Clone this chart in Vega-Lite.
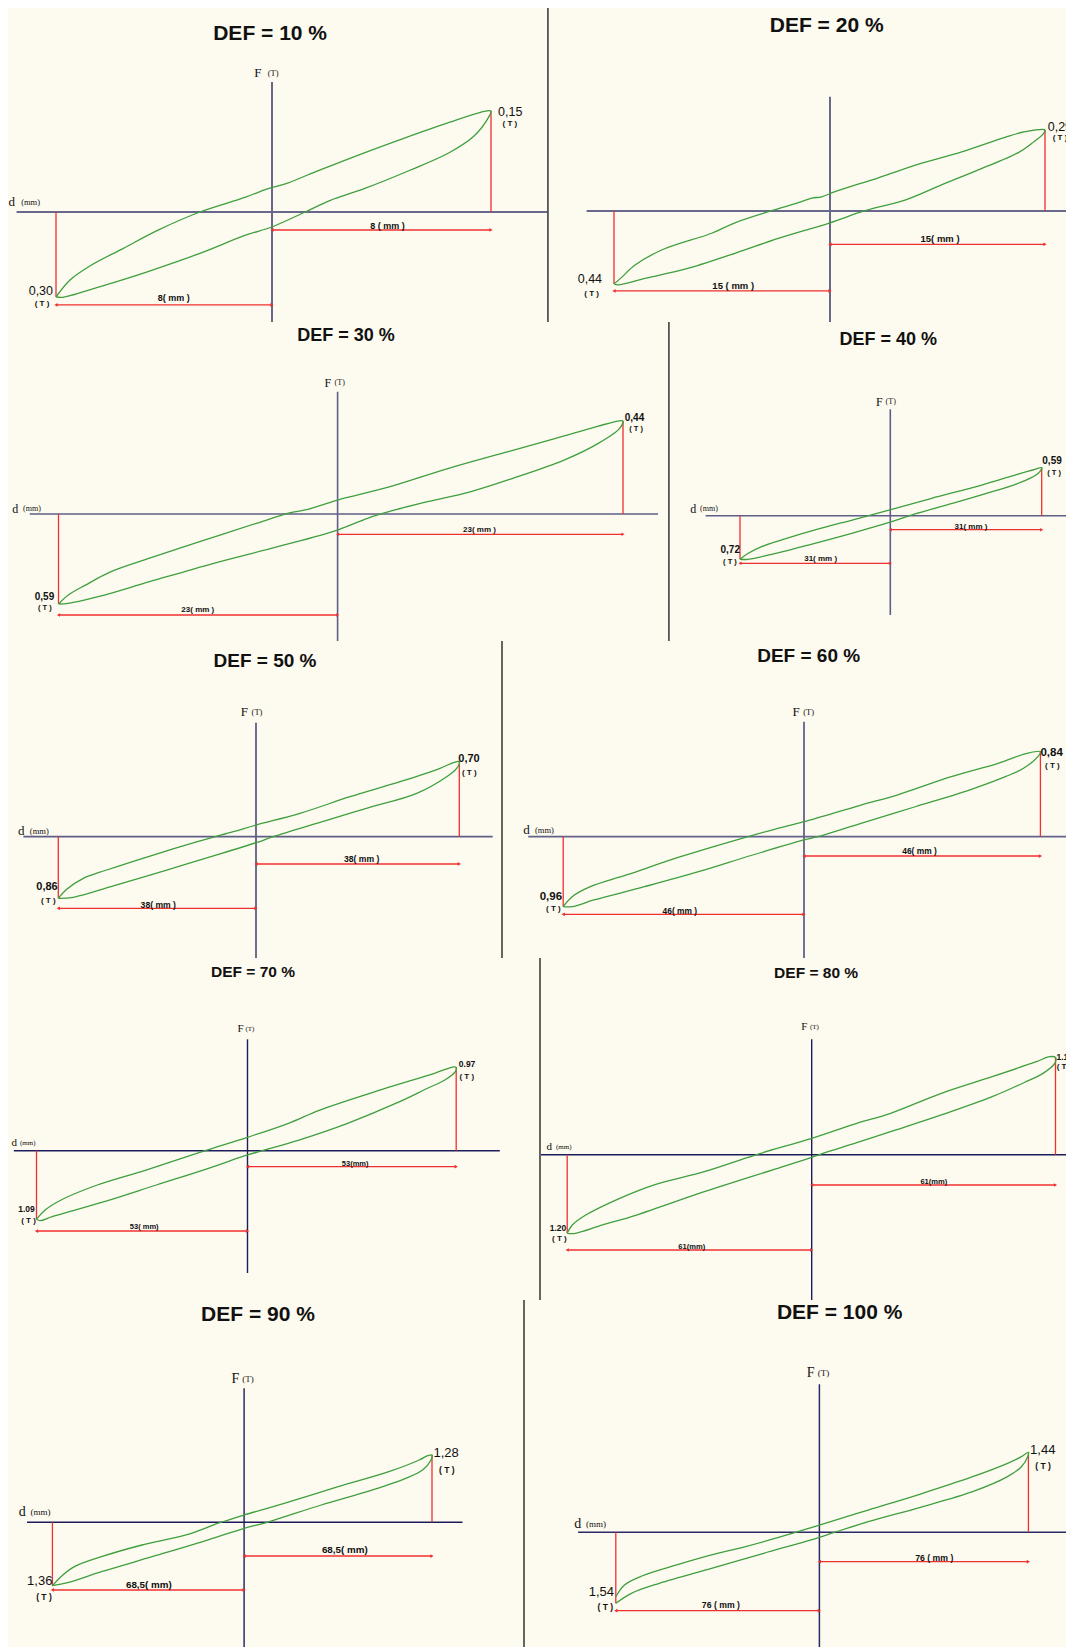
{
"$schema":"https://vega.github.io/schema/vega-lite/v6.json",
"background":"white",
"padding":{"left":8,"top":8,"right":0,"bottom":0},
"spacing":0,
"config":{"view":{"stroke":null,"fill":"#FDFAEF"},"axis":{"disable":true},"legend":{"disable":true}},
"datasets":{
"loops":[
{"p":10,"d":-8,"F":-0.3},{"p":10,"d":-7.48,"F":-0.24},{"p":10,"d":-6.7,"F":-0.188},{"p":10,"d":-5.52,"F":-0.129},{"p":10,"d":-4.22,"F":-0.064},{"p":10,"d":-2.67,"F":0},{"p":10,"d":-0.98,"F":0.022},{"p":10,"d":-0.2,"F":0.034},{"p":10,"d":0.57,"F":0.043},{"p":10,"d":1.6,"F":0.06},{"p":10,"d":3.25,"F":0.086},{"p":10,"d":4.79,"F":0.109},{"p":10,"d":6.47,"F":0.133},{"p":10,"d":7.62,"F":0.148},{"p":10,"d":8,"F":0.15},
{"p":10,"d":7.93,"F":0.142},{"p":10,"d":7.36,"F":0.112},{"p":10,"d":6.47,"F":0.088},{"p":10,"d":5.04,"F":0.062},{"p":10,"d":3.39,"F":0.035},{"p":10,"d":2.11,"F":0.017},{"p":10,"d":1.21,"F":0},{"p":10,"d":-0.01,"F":-0.053},{"p":10,"d":-0.98,"F":-0.082},{"p":10,"d":-2.67,"F":-0.146},{"p":10,"d":-4.62,"F":-0.211},{"p":10,"d":-6.18,"F":-0.258},{"p":10,"d":-7.74,"F":-0.301},{"p":10,"d":-8,"F":-0.3},

{"p":20,"d":-15,"F":-0.44},{"p":20,"d":-14.47,"F":-0.4},{"p":20,"d":-13.54,"F":-0.326},{"p":20,"d":-11.69,"F":-0.235},{"p":20,"d":-8.22,"F":-0.134},{"p":20,"d":-6.6,"F":-0.071},{"p":20,"d":-4.05,"F":0.001},{"p":20,"d":-2.2,"F":0.03},{"p":20,"d":-1.27,"F":0.046},{"p":20,"d":-0.58,"F":0.051},{"p":20,"d":0.35,"F":0.069},{"p":20,"d":3.37,"F":0.119},{"p":20,"d":6.4,"F":0.171},{"p":20,"d":9.19,"F":0.212},{"p":20,"d":12.21,"F":0.264},{"p":20,"d":13.61,"F":0.284},{"p":20,"d":15,"F":0.29},
{"p":20,"d":14.88,"F":0.276},{"p":20,"d":14.07,"F":0.242},{"p":20,"d":13.14,"F":0.209},{"p":20,"d":10.35,"F":0.147},{"p":20,"d":8.03,"F":0.099},{"p":20,"d":5.23,"F":0.039},{"p":20,"d":2.44,"F":0.001},{"p":20,"d":0,"F":-0.071},{"p":20,"d":-3.59,"F":-0.165},{"p":20,"d":-6.6,"F":-0.255},{"p":20,"d":-10.07,"F":-0.351},{"p":20,"d":-12.85,"F":-0.406},{"p":20,"d":-14.7,"F":-0.445},{"p":20,"d":-15,"F":-0.44},

{"p":30,"d":-23,"F":-0.59},{"p":30,"d":-22.19,"F":-0.531},{"p":30,"d":-20.78,"F":-0.466},{"p":30,"d":-18.67,"F":-0.378},{"p":30,"d":-15.5,"F":-0.29},{"p":30,"d":-10.92,"F":-0.17},{"p":30,"d":-6.69,"F":-0.061},{"p":30,"d":-3.87,"F":0.006},{"p":30,"d":-2.46,"F":0.022},{"p":30,"d":0,"F":0.066},{"p":30,"d":3.79,"F":0.122},{"p":30,"d":8.95,"F":0.216},{"p":30,"d":13.43,"F":0.29},{"p":30,"d":17.57,"F":0.358},{"p":30,"d":21.01,"F":0.416},{"p":30,"d":22.73,"F":0.441},{"p":30,"d":23,"F":0.44},
{"p":30,"d":22.73,"F":0.405},{"p":30,"d":21.01,"F":0.334},{"p":30,"d":18.25,"F":0.255},{"p":30,"d":14.12,"F":0.169},{"p":30,"d":10.68,"F":0.105},{"p":30,"d":7.24,"F":0.058},{"p":30,"d":4.13,"F":0.011},{"p":30,"d":2.41,"F":-0.028},{"p":30,"d":0,"F":-0.105},{"p":30,"d":-4.93,"F":-0.214},{"p":30,"d":-10.21,"F":-0.323},{"p":30,"d":-15.5,"F":-0.444},{"p":30,"d":-19.73,"F":-0.542},{"p":30,"d":-22.19,"F":-0.586},{"p":30,"d":-23,"F":-0.59},

{"p":40,"d":-31,"F":-0.72},{"p":40,"d":-29.29,"F":-0.621},{"p":40,"d":-26.53,"F":-0.512},{"p":40,"d":-22.4,"F":-0.401},{"p":40,"d":-15.53,"F":-0.236},{"p":40,"d":-7.28,"F":-0.059},{"p":40,"d":0.29,"F":0.079},{"p":40,"d":8.48,"F":0.214},{"p":40,"d":18.71,"F":0.377},{"p":40,"d":25.53,"F":0.5},{"p":40,"d":29.63,"F":0.57},{"p":40,"d":31,"F":0.59},
{"p":40,"d":30.3,"F":0.521},{"p":40,"d":27.58,"F":0.43},{"p":40,"d":22.11,"F":0.316},{"p":40,"d":13.92,"F":0.172},{"p":40,"d":5.06,"F":0.021},{"p":40,"d":0.29,"F":-0.099},{"p":40,"d":-7.96,"F":-0.291},{"p":40,"d":-16.91,"F":-0.484},{"p":40,"d":-24.46,"F":-0.637},{"p":40,"d":-29.29,"F":-0.72},{"p":40,"d":-31,"F":-0.72},

{"p":50,"d":-38,"F":-0.86},{"p":50,"d":-36.38,"F":-0.734},{"p":50,"d":-33.19,"F":-0.581},{"p":50,"d":-28.69,"F":-0.465},{"p":50,"d":-20.37,"F":-0.27},{"p":50,"d":-10.76,"F":-0.06},{"p":50,"d":-4.36,"F":0.047},{"p":50,"d":0,"F":0.109},{"p":50,"d":8.22,"F":0.218},{"p":50,"d":17.57,"F":0.373},{"p":50,"d":26.92,"F":0.513},{"p":50,"d":34.39,"F":0.638},{"p":50,"d":36.88,"F":0.691},{"p":50,"d":38,"F":0.7},
{"p":50,"d":37.51,"F":0.638},{"p":50,"d":35.64,"F":0.56},{"p":50,"d":30.04,"F":0.405},{"p":50,"d":20.64,"F":0.265},{"p":50,"d":11.35,"F":0.125},{"p":50,"d":3.23,"F":0},{"p":50,"d":0,"F":-0.084},{"p":50,"d":-7.55,"F":-0.255},{"p":50,"d":-17.16,"F":-0.465},{"p":50,"d":-26.77,"F":-0.674},{"p":50,"d":-35.11,"F":-0.846},{"p":50,"d":-38,"F":-0.86},

{"p":60,"d":-46,"F":-0.96},{"p":60,"d":-44.28,"F":-0.823},{"p":60,"d":-40.82,"F":-0.686},{"p":60,"d":-33.93,"F":-0.525},{"p":60,"d":-23.59,"F":-0.274},{"p":60,"d":-11.17,"F":-0.008},{"p":60,"d":-5.65,"F":0.073},{"p":60,"d":0,"F":0.148},{"p":60,"d":11.09,"F":0.313},{"p":60,"d":18.12,"F":0.412},{"p":60,"d":28.66,"F":0.593},{"p":60,"d":37.79,"F":0.725},{"p":60,"d":43.41,"F":0.824},{"p":60,"d":46,"F":0.84},
{"p":60,"d":45.51,"F":0.791},{"p":60,"d":42.71,"F":0.676},{"p":60,"d":39.19,"F":0.593},{"p":60,"d":32.17,"F":0.461},{"p":60,"d":21.64,"F":0.296},{"p":60,"d":11.09,"F":0.132},{"p":60,"d":2.67,"F":0},{"p":60,"d":0,"F":-0.045},{"p":60,"d":-9.8,"F":-0.251},{"p":60,"d":-20.13,"F":-0.48},{"p":60,"d":-30.49,"F":-0.686},{"p":60,"d":-40.13,"F":-0.868},{"p":60,"d":-44.28,"F":-0.96},{"p":60,"d":-46,"F":-0.96},

{"p":70,"d":-53,"F":-1.09},{"p":70,"d":-50.82,"F":-0.942},{"p":70,"d":-46.45,"F":-0.772},{"p":70,"d":-37.73,"F":-0.545},{"p":70,"d":-25.5,"F":-0.307},{"p":70,"d":-10.65,"F":0},{"p":70,"d":0,"F":0.156},{"p":70,"d":10.41,"F":0.319},{"p":70,"d":18.36,"F":0.473},{"p":70,"d":34.23,"F":0.714},{"p":70,"d":47.49,"F":0.9},{"p":70,"d":51.9,"F":0.97},{"p":70,"d":53,"F":0.97},
{"p":70,"d":52.77,"F":0.919},{"p":70,"d":50.13,"F":0.822},{"p":70,"d":45.71,"F":0.726},{"p":70,"d":38.65,"F":0.57},{"p":70,"d":25.42,"F":0.319},{"p":70,"d":13.05,"F":0.124},{"p":70,"d":3.78,"F":0},{"p":70,"d":0,"F":-0.068},{"p":70,"d":-9.8,"F":-0.28},{"p":70,"d":-22.88,"F":-0.545},{"p":70,"d":-35.97,"F":-0.81},{"p":70,"d":-49.08,"F":-1.049},{"p":70,"d":-52.12,"F":-1.112},{"p":70,"d":-53,"F":-1.09},

{"p":80,"d":-61,"F":-1.2},{"p":80,"d":-59.73,"F":-1.073},{"p":80,"d":-56.36,"F":-0.921},{"p":80,"d":-47.9,"F":-0.666},{"p":80,"d":-39.47,"F":-0.463},{"p":80,"d":-26.8,"F":-0.26},{"p":80,"d":-14.12,"F":-0.005},{"p":80,"d":0,"F":0.19},{"p":80,"d":11.26,"F":0.364},{"p":80,"d":19.74,"F":0.48},{"p":80,"d":32.45,"F":0.712},{"p":80,"d":45.16,"F":0.905},{"p":80,"d":56.17,"F":1.079},{"p":80,"d":59.54,"F":1.137},{"p":80,"d":61,"F":1.13},
{"p":80,"d":60.82,"F":1.06},{"p":80,"d":57.87,"F":0.944},{"p":80,"d":53.62,"F":0.847},{"p":80,"d":45.16,"F":0.673},{"p":80,"d":32.45,"F":0.461},{"p":80,"d":19.74,"F":0.267},{"p":80,"d":11.26,"F":0.139},{"p":80,"d":2.78,"F":0.016},{"p":80,"d":0,"F":-0.04},{"p":80,"d":-9.91,"F":-0.234},{"p":80,"d":-26.8,"F":-0.565},{"p":80,"d":-43.69,"F":-0.921},{"p":80,"d":-52.15,"F":-1.073},{"p":80,"d":-58.91,"F":-1.2},{"p":80,"d":-61,"F":-1.2},

{"p":90,"d":-68.5,"F":-1.36},{"p":90,"d":-65.45,"F":-1.167},{"p":90,"d":-60.63,"F":-0.952},{"p":90,"d":-50.98,"F":-0.738},{"p":90,"d":-36.48,"F":-0.487},{"p":90,"d":-20.79,"F":-0.272},{"p":90,"d":-8.72,"F":-0.009},{"p":90,"d":0,"F":0.139},{"p":90,"d":15.79,"F":0.38},{"p":90,"d":34.27,"F":0.677},{"p":90,"d":52.75,"F":0.962},{"p":90,"d":63.84,"F":1.185},{"p":90,"d":66.9,"F":1.267},{"p":90,"d":68.5,"F":1.28},
{"p":90,"d":68.14,"F":1.185},{"p":90,"d":65.07,"F":0.995},{"p":90,"d":58.91,"F":0.837},{"p":90,"d":46.59,"F":0.614},{"p":90,"d":28.11,"F":0.329},{"p":90,"d":8.38,"F":0},{"p":90,"d":0,"F":-0.129},{"p":90,"d":-14.76,"F":-0.416},{"p":90,"d":-32.87,"F":-0.738},{"p":90,"d":-50.98,"F":-1.06},{"p":90,"d":-63.06,"F":-1.296},{"p":90,"d":-68.5,"F":-1.36},

{"p":100,"d":-76,"F":-1.397},{"p":100,"d":-72.75,"F":-1.143},{"p":100,"d":-66.26,"F":-0.948},{"p":100,"d":-53.27,"F":-0.709},{"p":100,"d":-40.28,"F":-0.492},{"p":100,"d":-28.59,"F":-0.325},{"p":100,"d":-14.3,"F":-0.095},{"p":100,"d":0,"F":0.131},{"p":100,"d":17.75,"F":0.401},{"p":100,"d":36.73,"F":0.689},{"p":100,"d":55.71,"F":1.001},{"p":100,"d":68.4,"F":1.242},{"p":100,"d":73.45,"F":1.361},{"p":100,"d":76,"F":1.44},
{"p":100,"d":75.75,"F":1.361},{"p":100,"d":73.45,"F":1.181},{"p":100,"d":68.4,"F":1.001},{"p":100,"d":55.71,"F":0.731},{"p":100,"d":36.73,"F":0.45},{"p":100,"d":17.75,"F":0.191},{"p":100,"d":5.09,"F":-0.009},{"p":100,"d":0,"F":-0.108},{"p":100,"d":-20.79,"F":-0.456},{"p":100,"d":-40.28,"F":-0.781},{"p":100,"d":-59.76,"F":-1.106},{"p":100,"d":-70.18,"F":-1.323},{"p":100,"d":-76,"F":-1.54}
],
"rules":[
{"p":10,"k":"ax","d":-9.46,"F":0,"d2":10.05,"F2":0},{"p":10,"k":"ax","d":0,"F":0.193,"d2":0,"F2":-2},
{"p":10,"k":"red","d":-8,"F":-0.3,"d2":-8,"F2":0},{"p":10,"k":"red","d":8,"F":0.15,"d2":8,"F2":0},{"p":10,"k":"red","d":0,"F":-0.0635,"d2":8,"F2":-0.0635},{"p":10,"k":"red","d":-8,"F":-0.328,"d2":0,"F2":-0.328},
{"p":10,"k":"div","d":10.08},
{"p":20,"k":"ax","d":-16.9,"F":0,"d2":30,"F2":0},{"p":20,"k":"ax","d":0,"F":0.409,"d2":0,"F2":-3},
{"p":20,"k":"red","d":-15,"F":-0.44,"d2":-15,"F2":0},{"p":20,"k":"red","d":15,"F":0.29,"d2":15,"F2":0},{"p":20,"k":"red","d":0,"F":-0.2007,"d2":15,"F2":-0.2007},{"p":20,"k":"red","d":-15,"F":-0.482,"d2":0,"F2":-0.482},
{"p":30,"k":"ax","d":-25.37,"F":0,"d2":25.82,"F2":0},{"p":30,"k":"ax","d":0,"F":0.5785,"d2":0,"F2":-4},
{"p":30,"k":"red","d":-23,"F":-0.59,"d2":-23,"F2":0},{"p":30,"k":"red","d":23,"F":0.44,"d2":23,"F2":0},{"p":30,"k":"red","d":0,"F":-0.133,"d2":23,"F2":-0.133},{"p":30,"k":"red","d":-23,"F":-0.662,"d2":0,"F2":-0.662},
{"p":30,"k":"div","d":26.7},
{"p":40,"k":"ax","d":-38.08,"F":0,"d2":60,"F2":0},{"p":40,"k":"ax","d":0,"F":1.308,"d2":0,"F2":-1.64},
{"p":40,"k":"red","d":-31,"F":-0.72,"d2":-31,"F2":0},{"p":40,"k":"red","d":31,"F":0.59,"d2":31,"F2":0},{"p":40,"k":"red","d":0,"F":-0.231,"d2":31,"F2":-0.231},{"p":40,"k":"red","d":-31,"F":-0.786,"d2":0,"F2":-0.786},
{"p":50,"k":"ax","d":-44.72,"F":0,"d2":44.24,"F2":0},{"p":50,"k":"ax","d":0,"F":1.064,"d2":0,"F2":-5},
{"p":50,"k":"red","d":-38,"F":-0.86,"d2":-38,"F2":0},{"p":50,"k":"red","d":38,"F":0.7,"d2":38,"F2":0},{"p":50,"k":"red","d":0,"F":-0.381,"d2":38,"F2":-0.381},{"p":50,"k":"red","d":-38,"F":-1.0,"d2":0,"F2":-1.0},
{"p":50,"k":"div","d":45.98},
{"p":60,"k":"ax","d":-52.68,"F":0,"d2":80,"F2":0},{"p":60,"k":"ax","d":0,"F":1.136,"d2":0,"F2":-5},
{"p":60,"k":"red","d":-46,"F":-0.96,"d2":-46,"F2":0},{"p":60,"k":"red","d":46,"F":0.84,"d2":46,"F2":0},{"p":60,"k":"red","d":0,"F":-0.265,"d2":46,"F2":-0.265},{"p":60,"k":"red","d":-46,"F":-1.064,"d2":0,"F2":-1.064},
{"p":70,"k":"ax","d":-58.68,"F":0,"d2":64.07,"F2":0},{"p":70,"k":"ax","d":0,"F":1.296,"d2":0,"F2":-1.943},
{"p":70,"k":"red","d":-53,"F":-1.09,"d2":-53,"F2":0},{"p":70,"k":"red","d":53,"F":0.97,"d2":53,"F2":0},{"p":70,"k":"red","d":0,"F":-0.254,"d2":53,"F2":-0.254},{"p":70,"k":"red","d":-53,"F":-1.276,"d2":0,"F2":-1.276},
{"p":70,"k":"div","d":74.28},
{"p":80,"k":"ax","d":-67.54,"F":0,"d2":90,"F2":0},{"p":80,"k":"ax","d":0,"F":1.339,"d2":0,"F2":-5},
{"p":80,"k":"red","d":-61,"F":-1.2,"d2":-61,"F2":0},{"p":80,"k":"red","d":61,"F":1.13,"d2":61,"F2":0},{"p":80,"k":"red","d":0,"F":-0.4626,"d2":61,"F2":-0.4626},{"p":80,"k":"red","d":-61,"F":-1.455,"d2":0,"F2":-1.455},
{"p":90,"k":"ax","d":-77.56,"F":0,"d2":79.62,"F2":0},{"p":90,"k":"ax","d":0,"F":2.548,"d2":0,"F2":-8},
{"p":90,"k":"red","d":-68.5,"F":-1.36,"d2":-68.5,"F2":0},{"p":90,"k":"red","d":68.5,"F":1.28,"d2":68.5,"F2":0},{"p":90,"k":"red","d":0,"F":-0.723,"d2":68.5,"F2":-0.723},{"p":90,"k":"red","d":-68.5,"F":-1.452,"d2":0,"F2":-1.452},
{"p":90,"k":"div","d":102.04},
{"p":100,"k":"ax","d":-90.07,"F":0,"d2":130,"F2":0},{"p":100,"k":"ax","d":0,"F":2.664,"d2":0,"F2":-8},
{"p":100,"k":"red","d":-76,"F":-1.54,"d2":-76,"F2":0},{"p":100,"k":"red","d":76,"F":1.44,"d2":76,"F2":0},{"p":100,"k":"red","d":0,"F":-0.638,"d2":76,"F2":-0.638},{"p":100,"k":"red","d":-76,"F":-1.701,"d2":0,"F2":-1.701}
],
"arrows":[
{"p":10,"d":0,"F":-0.0635,"s":"L"},{"p":10,"d":8,"F":-0.0635,"s":"R"},{"p":10,"d":-8,"F":-0.328,"s":"L"},{"p":10,"d":0,"F":-0.328,"s":"R"},
{"p":20,"d":0,"F":-0.2007,"s":"L"},{"p":20,"d":15,"F":-0.2007,"s":"R"},{"p":20,"d":-15,"F":-0.482,"s":"L"},{"p":20,"d":0,"F":-0.482,"s":"R"},
{"p":30,"d":0,"F":-0.133,"s":"L"},{"p":30,"d":23,"F":-0.133,"s":"R"},{"p":30,"d":-23,"F":-0.662,"s":"L"},{"p":30,"d":0,"F":-0.662,"s":"R"},
{"p":40,"d":0,"F":-0.231,"s":"L"},{"p":40,"d":31,"F":-0.231,"s":"R"},{"p":40,"d":-31,"F":-0.786,"s":"L"},{"p":40,"d":0,"F":-0.786,"s":"R"},
{"p":50,"d":0,"F":-0.381,"s":"L"},{"p":50,"d":38,"F":-0.381,"s":"R"},{"p":50,"d":-38,"F":-1.0,"s":"L"},{"p":50,"d":0,"F":-1.0,"s":"R"},
{"p":60,"d":0,"F":-0.265,"s":"L"},{"p":60,"d":46,"F":-0.265,"s":"R"},{"p":60,"d":-46,"F":-1.064,"s":"L"},{"p":60,"d":0,"F":-1.064,"s":"R"},
{"p":70,"d":0,"F":-0.254,"s":"L"},{"p":70,"d":53,"F":-0.254,"s":"R"},{"p":70,"d":-53,"F":-1.276,"s":"L"},{"p":70,"d":0,"F":-1.276,"s":"R"},
{"p":80,"d":0,"F":-0.4626,"s":"L"},{"p":80,"d":61,"F":-0.4626,"s":"R"},{"p":80,"d":-61,"F":-1.455,"s":"L"},{"p":80,"d":0,"F":-1.455,"s":"R"},
{"p":90,"d":0,"F":-0.723,"s":"L"},{"p":90,"d":68.5,"F":-0.723,"s":"R"},{"p":90,"d":-68.5,"F":-1.452,"s":"L"},{"p":90,"d":0,"F":-1.452,"s":"R"},
{"p":100,"d":0,"F":-0.638,"s":"L"},{"p":100,"d":76,"F":-0.638,"s":"R"},{"p":100,"d":-76,"F":-1.701,"s":"L"},{"p":100,"d":0,"F":-1.701,"s":"R"}
],
"ann":[
{"p":10,"k":"title","d":-0.07,"F":0.264,"t":"DEF = 10 %"},{"p":10,"k":"axn","d":-0.52,"F":0.207,"t":"F"},{"p":10,"k":"axu","d":0.04,"F":0.207,"t":"(T)"},{"p":10,"k":"axn","d":-9.64,"F":0.0153,"t":"d"},{"p":10,"k":"axu","d":-8.94,"F":0.0153,"t":"(mm)"},{"p":10,"k":"pkR","d":8.26,"F":0.1485,"t":"0,15"},{"p":10,"k":"T","d":8.69,"F":0.13,"t":"( T )"},{"p":10,"k":"pkL","d":-8.11,"F":-0.279,"t":"0,30"},{"p":10,"k":"T","d":-8.52,"F":-0.324,"t":"( T )"},{"p":10,"k":"dim","d":4.22,"F":-0.0477,"t":"8 ( mm )"},{"p":10,"k":"dim","d":-3.64,"F":-0.3025,"t":"8( mm )"},
{"p":20,"k":"title","d":-0.23,"F":0.662,"t":"DEF = 20 %"},{"p":20,"k":"pkR","d":15.19,"F":0.302,"t":"0,29"},{"p":20,"k":"T","d":16.05,"F":0.262,"t":"( T )"},{"p":20,"k":"pkL","d":-15.83,"F":-0.412,"t":"0,44"},{"p":20,"k":"T","d":-16.55,"F":-0.5,"t":"( T )"},{"p":20,"k":"dim","d":7.68,"F":-0.1706,"t":"15( mm )"},{"p":20,"k":"dim","d":-6.72,"F":-0.45,"t":"15 ( mm )"},
{"p":30,"k":"title","d":0.68,"F":0.842,"t":"DEF = 30 %"},{"p":30,"k":"axn","d":-0.81,"F":0.621,"t":"F"},{"p":30,"k":"axu","d":0.17,"F":0.621,"t":"(T)"},{"p":30,"k":"axn","d":-26.56,"F":0.0237,"t":"d"},{"p":30,"k":"axu","d":-25.19,"F":0.0237,"t":"(mm)"},{"p":30,"k":"pkR","d":23.14,"F":0.4555,"t":"0,44"},{"p":30,"k":"T","d":24.05,"F":0.402,"t":"( T )"},{"p":30,"k":"pkL","d":-23.35,"F":-0.542,"t":"0,59"},{"p":30,"k":"T","d":-24.13,"F":-0.618,"t":"( T )"},{"p":30,"k":"dim","d":11.43,"F":-0.105,"t":"23( mm )"},{"p":30,"k":"dim","d":-11.52,"F":-0.63,"t":"23( mm )"},
{"p":40,"k":"title","d":-0.41,"F":2.16,"t":"DEF = 40 %"},{"p":40,"k":"axn","d":-2.27,"F":1.401,"t":"F"},{"p":40,"k":"axu","d":0.08,"F":1.401,"t":"(T)"},{"p":40,"k":"axn","d":-40.64,"F":0.086,"t":"d"},{"p":40,"k":"axu","d":-37.4,"F":0.086,"t":"(mm)"},{"p":40,"k":"pkR","d":31.12,"F":0.672,"t":"0,59"},{"p":40,"k":"T","d":33.52,"F":0.5285,"t":"( T )"},{"p":40,"k":"pkL","d":-31.0,"F":-0.566,"t":"0,72"},{"p":40,"k":"T","d":-33.07,"F":-0.76,"t":"( T )"},{"p":40,"k":"dim","d":16.52,"F":-0.182,"t":"31( mm )"},{"p":40,"k":"dim","d":-14.36,"F":-0.715,"t":"31( mm )"},
{"p":50,"k":"title","d":1.68,"F":1.643,"t":"DEF = 50 %"},{"p":50,"k":"axn","d":-2.25,"F":1.167,"t":"F"},{"p":50,"k":"axu","d":0.19,"F":1.167,"t":"(T)"},{"p":50,"k":"axn","d":-45.11,"F":0.056,"t":"d"},{"p":50,"k":"axu","d":-41.65,"F":0.056,"t":"(mm)"},{"p":50,"k":"pkR","d":37.81,"F":0.722,"t":"0,70"},{"p":50,"k":"T","d":39.87,"F":0.592,"t":"( T )"},{"p":50,"k":"pkL","d":-38.11,"F":-0.698,"t":"0,86"},{"p":50,"k":"T","d":-39.92,"F":-0.893,"t":"( T )"},{"p":50,"k":"dim","d":19.76,"F":-0.316,"t":"38( mm )"},{"p":50,"k":"dim","d":-18.78,"F":-0.954,"t":"38( mm )"},
{"p":60,"k":"title","d":0.91,"F":1.789,"t":"DEF = 60 %"},{"p":60,"k":"axn","d":-1.53,"F":1.235,"t":"F"},{"p":60,"k":"axu","d":0.91,"F":1.235,"t":"(T)"},{"p":60,"k":"axn","d":-53.03,"F":0.066,"t":"d"},{"p":60,"k":"axu","d":-49.59,"F":0.066,"t":"(mm)"},{"p":60,"k":"pkR","d":46.0,"F":0.83,"t":"0,84"},{"p":60,"k":"T","d":48.32,"F":0.699,"t":"( T )"},{"p":60,"k":"pkL","d":-46.21,"F":-0.823,"t":"0,96"},{"p":60,"k":"T","d":-47.87,"F":-0.996,"t":"( T )"},{"p":60,"k":"dim","d":22.47,"F":-0.192,"t":"46( mm )"},{"p":60,"k":"dim","d":-23.72,"F":-1.015,"t":"46( mm )"},
{"p":70,"k":"title","d":1.4,"F":2.082,"t":"DEF = 70 %"},{"p":70,"k":"axn","d":-1.76,"F":1.415,"t":"F"},{"p":70,"k":"axu","d":0.63,"F":1.415,"t":"(T)"},{"p":70,"k":"axn","d":-58.58,"F":0.086,"t":"d"},{"p":70,"k":"axu","d":-55.19,"F":0.086,"t":"(mm)"},{"p":70,"k":"pkR","d":53.66,"F":1.005,"t":"0.97"},{"p":70,"k":"T","d":55.69,"F":0.861,"t":"( T )"},{"p":70,"k":"pkL","d":-53.43,"F":-0.9215,"t":"1.09"},{"p":70,"k":"T","d":-55.01,"F":-1.112,"t":"( T )"},{"p":70,"k":"dim","d":27.35,"F":-0.216,"t":"53(mm)"},{"p":70,"k":"dim","d":-25.95,"F":-1.2075,"t":"53( mm)"},
{"p":80,"k":"title","d":1.1,"F":2.105,"t":"DEF = 80 %"},{"p":80,"k":"axn","d":-1.87,"F":1.478,"t":"F"},{"p":80,"k":"axu","d":0.68,"F":1.478,"t":"(T)"},{"p":80,"k":"axn","d":-65.49,"F":0.086,"t":"d"},{"p":80,"k":"axu","d":-61.85,"F":0.086,"t":"(mm)"},{"p":80,"k":"pkR","d":61.25,"F":1.137,"t":"1.13"},{"p":80,"k":"T","d":63.12,"F":1.014,"t":"( T )"},{"p":80,"k":"pkL","d":-61.25,"F":-1.115,"t":"1.20"},{"p":80,"k":"T","d":-62.95,"F":-1.292,"t":"( T )"},{"p":80,"k":"dim","d":30.57,"F":-0.421,"t":"61(mm)"},{"p":80,"k":"dim","d":-29.92,"F":-1.405,"t":"61(mm)"},
{"p":90,"k":"title","d":5.07,"F":3.943,"t":"DEF = 90 %"},{"p":90,"k":"axn","d":-3.14,"F":2.725,"t":"F"},{"p":90,"k":"axu","d":1.46,"F":2.725,"t":"(T)"},{"p":90,"k":"axn","d":-79.24,"F":0.19,"t":"d"},{"p":90,"k":"axu","d":-72.71,"F":0.19,"t":"(mm)"},{"p":90,"k":"pkR","d":69.01,"F":1.324,"t":"1,28"},{"p":90,"k":"T","d":73.93,"F":0.995,"t":"( T )"},{"p":90,"k":"pkL","d":-68.5,"F":-1.253,"t":"1,36"},{"p":90,"k":"T","d":-71.52,"F":-1.596,"t":"( T )"},{"p":90,"k":"dim","d":36.71,"F":-0.594,"t":"68,5( mm)"},{"p":90,"k":"dim","d":-34.05,"F":-1.345,"t":"68,5( mm)"},
{"p":100,"k":"title","d":7.35,"F":3.942,"t":"DEF = 100 %"},{"p":100,"k":"axn","d":-3.25,"F":2.862,"t":"F"},{"p":100,"k":"axu","d":1.53,"F":2.862,"t":"(T)"},{"p":100,"k":"axn","d":-90.18,"F":0.144,"t":"d"},{"p":100,"k":"axu","d":-83.43,"F":0.144,"t":"(mm)"},{"p":100,"k":"pkR","d":76.62,"F":1.481,"t":"1,44"},{"p":100,"k":"T","d":81.31,"F":1.193,"t":"( T )"},{"p":100,"k":"pkL","d":-76.67,"F":-1.289,"t":"1,54"},{"p":100,"k":"T","d":-79.92,"F":-1.614,"t":"( T )"},{"p":100,"k":"dim","d":41.78,"F":-0.551,"t":"76 ( mm )"},{"p":100,"k":"dim","d":-36.77,"F":-1.577,"t":"76 ( mm )"}
]
},
"vconcat":[
{"hconcat":[
{"width":541,"height":314,"layer":[
{"data":{"name":"rules"},"transform":[{"filter":"datum.p==10&&datum.k=='ax'"}],"mark":{"type":"rule","color":"#68688c","strokeWidth":2,"clip":true},"encoding":{"x":{"field":"d","type":"quantitative","scale":{"domain":[-8,0,8],"range":[48,264,483],"nice":false,"zero":false}},"y":{"field":"F","type":"quantitative","scale":{"domain":[-0.3,0,0.15],"range":[289,204,103],"nice":false,"zero":false}},"x2":{"field":"d2"},"y2":{"field":"F2"}}},
{"data":{"name":"rules"},"transform":[{"filter":"datum.p==10&&datum.k=='red'"}],"mark":{"type":"rule","color":"#f03030","strokeWidth":1.3},"encoding":{"x":{"field":"d","type":"quantitative"},"y":{"field":"F","type":"quantitative"},"x2":{"field":"d2"},"y2":{"field":"F2"}}},
{"data":{"name":"rules"},"transform":[{"filter":"datum.p==10&&datum.k=='div'"}],"mark":{"type":"rule","color":"#333333","strokeWidth":1.5,"clip":true},"encoding":{"x":{"field":"d","type":"quantitative"}}},
{"data":{"name":"loops"},"transform":[{"filter":"datum.p==10"}],"mark":{"type":"line","color":"#3f9f3f","strokeWidth":1.3,"interpolate":"catmull-rom"},"encoding":{"x":{"field":"d","type":"quantitative"},"y":{"field":"F","type":"quantitative"},"order":{"value":null}}},
{"data":{"name":"arrows"},"transform":[{"filter":"datum.p==10"}],"mark":{"type":"point","filled":true,"color":"#f03030","size":14,"opacity":1},"encoding":{"x":{"field":"d","type":"quantitative"},"y":{"field":"F","type":"quantitative"},"shape":{"field":"s","type":"nominal","scale":{"domain":["L","R"],"range":["triangle-left","triangle-right"]},"legend":null}}},
{"data":{"name":"ann"},"transform":[{"filter":"datum.p==10&&datum.k=='title'"}],"mark":{"type":"text","font":"Liberation Sans","fontWeight":"bold","fontSize":21,"color":"#111"},"encoding":{"x":{"field":"d","type":"quantitative"},"y":{"field":"F","type":"quantitative"},"text":{"field":"t","type":"nominal"}}},
{"data":{"name":"ann"},"transform":[{"filter":"datum.p==10&&datum.k=='pkR'"}],"mark":{"type":"text","font":"Liberation Sans","fontSize":12.5,"align":"left","color":"#111"},"encoding":{"x":{"field":"d","type":"quantitative"},"y":{"field":"F","type":"quantitative"},"text":{"field":"t","type":"nominal"}}},
{"data":{"name":"ann"},"transform":[{"filter":"datum.p==10&&datum.k=='pkL'"}],"mark":{"type":"text","font":"Liberation Sans","fontSize":12.5,"align":"right","color":"#111"},"encoding":{"x":{"field":"d","type":"quantitative"},"y":{"field":"F","type":"quantitative"},"text":{"field":"t","type":"nominal"}}},
{"data":{"name":"ann"},"transform":[{"filter":"datum.p==10&&datum.k=='T'"}],"mark":{"type":"text","font":"Liberation Sans","fontWeight":"bold","fontSize":8,"color":"#111"},"encoding":{"x":{"field":"d","type":"quantitative"},"y":{"field":"F","type":"quantitative"},"text":{"field":"t","type":"nominal"}}},
{"data":{"name":"ann"},"transform":[{"filter":"datum.p==10&&datum.k=='dim'"}],"mark":{"type":"text","font":"Liberation Sans","fontWeight":"bold","fontSize":9,"color":"#111"},"encoding":{"x":{"field":"d","type":"quantitative"},"y":{"field":"F","type":"quantitative"},"text":{"field":"t","type":"nominal"}}},
{"data":{"name":"ann"},"transform":[{"filter":"datum.p==10&&datum.k=='axn'"}],"mark":{"type":"text","font":"Liberation Serif","fontSize":13,"color":"#111"},"encoding":{"x":{"field":"d","type":"quantitative"},"y":{"field":"F","type":"quantitative"},"text":{"field":"t","type":"nominal"}}},
{"data":{"name":"ann"},"transform":[{"filter":"datum.p==10&&datum.k=='axu'"}],"mark":{"type":"text","font":"Liberation Serif","fontSize":8.5,"color":"#111"},"encoding":{"x":{"field":"d","type":"quantitative"},"y":{"field":"F","type":"quantitative"},"text":{"field":"t","type":"nominal"}}}
]},
{"width":517,"height":314,"layer":[
{"data":{"name":"rules"},"transform":[{"filter":"datum.p==20&&datum.k=='ax'"}],"mark":{"type":"rule","color":"#68688c","strokeWidth":2,"clip":true},"encoding":{"x":{"field":"d","type":"quantitative","scale":{"domain":[-15,0,15],"range":[65,281,496],"nice":false,"zero":false}},"y":{"field":"F","type":"quantitative","scale":{"domain":[-0.44,0,0.29],"range":[276,203,122],"nice":false,"zero":false}},"x2":{"field":"d2"},"y2":{"field":"F2"}}},
{"data":{"name":"rules"},"transform":[{"filter":"datum.p==20&&datum.k=='red'"}],"mark":{"type":"rule","color":"#f03030","strokeWidth":1.3},"encoding":{"x":{"field":"d","type":"quantitative"},"y":{"field":"F","type":"quantitative"},"x2":{"field":"d2"},"y2":{"field":"F2"}}},
{"data":{"name":"loops"},"transform":[{"filter":"datum.p==20"}],"mark":{"type":"line","color":"#3f9f3f","strokeWidth":1.3,"interpolate":"catmull-rom"},"encoding":{"x":{"field":"d","type":"quantitative"},"y":{"field":"F","type":"quantitative"},"order":{"value":null}}},
{"data":{"name":"arrows"},"transform":[{"filter":"datum.p==20"}],"mark":{"type":"point","filled":true,"color":"#f03030","size":14,"opacity":1},"encoding":{"x":{"field":"d","type":"quantitative"},"y":{"field":"F","type":"quantitative"},"shape":{"field":"s","type":"nominal","scale":{"domain":["L","R"],"range":["triangle-left","triangle-right"]},"legend":null}}},
{"data":{"name":"ann"},"transform":[{"filter":"datum.p==20&&datum.k=='title'"}],"mark":{"type":"text","font":"Liberation Sans","fontWeight":"bold","fontSize":21,"color":"#111"},"encoding":{"x":{"field":"d","type":"quantitative"},"y":{"field":"F","type":"quantitative"},"text":{"field":"t","type":"nominal"}}},
{"data":{"name":"ann"},"transform":[{"filter":"datum.p==20&&datum.k=='pkR'"}],"mark":{"type":"text","font":"Liberation Sans","fontSize":12.5,"align":"left","color":"#111"},"encoding":{"x":{"field":"d","type":"quantitative"},"y":{"field":"F","type":"quantitative"},"text":{"field":"t","type":"nominal"}}},
{"data":{"name":"ann"},"transform":[{"filter":"datum.p==20&&datum.k=='pkL'"}],"mark":{"type":"text","font":"Liberation Sans","fontSize":12.5,"align":"right","color":"#111"},"encoding":{"x":{"field":"d","type":"quantitative"},"y":{"field":"F","type":"quantitative"},"text":{"field":"t","type":"nominal"}}},
{"data":{"name":"ann"},"transform":[{"filter":"datum.p==20&&datum.k=='T'"}],"mark":{"type":"text","font":"Liberation Sans","fontWeight":"bold","fontSize":8,"color":"#111"},"encoding":{"x":{"field":"d","type":"quantitative"},"y":{"field":"F","type":"quantitative"},"text":{"field":"t","type":"nominal"}}},
{"data":{"name":"ann"},"transform":[{"filter":"datum.p==20&&datum.k=='dim'"}],"mark":{"type":"text","font":"Liberation Sans","fontWeight":"bold","fontSize":9.5,"color":"#111"},"encoding":{"x":{"field":"d","type":"quantitative"},"y":{"field":"F","type":"quantitative"},"text":{"field":"t","type":"nominal"}}}
]}
],"spacing":0,"bounds":"flush"},
{"hconcat":[
{"width":662,"height":319,"layer":[
{"data":{"name":"rules"},"transform":[{"filter":"datum.p==30&&datum.k=='ax'"}],"mark":{"type":"rule","color":"#5e5e88","strokeWidth":1.6,"clip":true},"encoding":{"x":{"field":"d","type":"quantitative","scale":{"domain":[-23,0,23],"range":[50.5,329.6,615],"nice":false,"zero":false}},"y":{"field":"F","type":"quantitative","scale":{"domain":[-0.59,0,0.44],"range":[282,192,99],"nice":false,"zero":false}},"x2":{"field":"d2"},"y2":{"field":"F2"}}},
{"data":{"name":"rules"},"transform":[{"filter":"datum.p==30&&datum.k=='red'"}],"mark":{"type":"rule","color":"#f03030","strokeWidth":1.3},"encoding":{"x":{"field":"d","type":"quantitative"},"y":{"field":"F","type":"quantitative"},"x2":{"field":"d2"},"y2":{"field":"F2"}}},
{"data":{"name":"rules"},"transform":[{"filter":"datum.p==30&&datum.k=='div'"}],"mark":{"type":"rule","color":"#333333","strokeWidth":1.5,"clip":true},"encoding":{"x":{"field":"d","type":"quantitative"}}},
{"data":{"name":"loops"},"transform":[{"filter":"datum.p==30"}],"mark":{"type":"line","color":"#3f9f3f","strokeWidth":1.3,"interpolate":"catmull-rom"},"encoding":{"x":{"field":"d","type":"quantitative"},"y":{"field":"F","type":"quantitative"},"order":{"value":null}}},
{"data":{"name":"arrows"},"transform":[{"filter":"datum.p==30"}],"mark":{"type":"point","filled":true,"color":"#f03030","size":12,"opacity":1},"encoding":{"x":{"field":"d","type":"quantitative"},"y":{"field":"F","type":"quantitative"},"shape":{"field":"s","type":"nominal","scale":{"domain":["L","R"],"range":["triangle-left","triangle-right"]},"legend":null}}},
{"data":{"name":"ann"},"transform":[{"filter":"datum.p==30&&datum.k=='title'"}],"mark":{"type":"text","font":"Liberation Sans","fontWeight":"bold","fontSize":18,"color":"#111"},"encoding":{"x":{"field":"d","type":"quantitative"},"y":{"field":"F","type":"quantitative"},"text":{"field":"t","type":"nominal"}}},
{"data":{"name":"ann"},"transform":[{"filter":"datum.p==30&&datum.k=='pkR'"}],"mark":{"type":"text","font":"Liberation Sans","fontWeight":"bold","fontSize":10,"align":"left","color":"#111"},"encoding":{"x":{"field":"d","type":"quantitative"},"y":{"field":"F","type":"quantitative"},"text":{"field":"t","type":"nominal"}}},
{"data":{"name":"ann"},"transform":[{"filter":"datum.p==30&&datum.k=='pkL'"}],"mark":{"type":"text","font":"Liberation Sans","fontWeight":"bold","fontSize":10,"align":"right","color":"#111"},"encoding":{"x":{"field":"d","type":"quantitative"},"y":{"field":"F","type":"quantitative"},"text":{"field":"t","type":"nominal"}}},
{"data":{"name":"ann"},"transform":[{"filter":"datum.p==30&&datum.k=='T'"}],"mark":{"type":"text","font":"Liberation Sans","fontWeight":"bold","fontSize":7.5,"color":"#111"},"encoding":{"x":{"field":"d","type":"quantitative"},"y":{"field":"F","type":"quantitative"},"text":{"field":"t","type":"nominal"}}},
{"data":{"name":"ann"},"transform":[{"filter":"datum.p==30&&datum.k=='dim'"}],"mark":{"type":"text","font":"Liberation Sans","fontWeight":"bold","fontSize":8,"color":"#111"},"encoding":{"x":{"field":"d","type":"quantitative"},"y":{"field":"F","type":"quantitative"},"text":{"field":"t","type":"nominal"}}},
{"data":{"name":"ann"},"transform":[{"filter":"datum.p==30&&datum.k=='axn'"}],"mark":{"type":"text","font":"Liberation Serif","fontSize":12,"color":"#111"},"encoding":{"x":{"field":"d","type":"quantitative"},"y":{"field":"F","type":"quantitative"},"text":{"field":"t","type":"nominal"}}},
{"data":{"name":"ann"},"transform":[{"filter":"datum.p==30&&datum.k=='axu'"}],"mark":{"type":"text","font":"Liberation Serif","fontSize":8,"color":"#111"},"encoding":{"x":{"field":"d","type":"quantitative"},"y":{"field":"F","type":"quantitative"},"text":{"field":"t","type":"nominal"}}}
]},
{"width":396,"height":319,"layer":[
{"data":{"name":"rules"},"transform":[{"filter":"datum.p==40&&datum.k=='ax'"}],"mark":{"type":"rule","color":"#5e5e88","strokeWidth":1.6,"clip":true},"encoding":{"x":{"field":"d","type":"quantitative","scale":{"domain":[-31,0,31],"range":[70,220.3,371.7],"nice":false,"zero":false}},"y":{"field":"F","type":"quantitative","scale":{"domain":[-0.72,0,0.59],"range":[237.3,193.7,145.7],"nice":false,"zero":false}},"x2":{"field":"d2"},"y2":{"field":"F2"}}},
{"data":{"name":"rules"},"transform":[{"filter":"datum.p==40&&datum.k=='red'"}],"mark":{"type":"rule","color":"#f03030","strokeWidth":1.3},"encoding":{"x":{"field":"d","type":"quantitative"},"y":{"field":"F","type":"quantitative"},"x2":{"field":"d2"},"y2":{"field":"F2"}}},
{"data":{"name":"loops"},"transform":[{"filter":"datum.p==40"}],"mark":{"type":"line","color":"#3f9f3f","strokeWidth":1.3,"interpolate":"catmull-rom"},"encoding":{"x":{"field":"d","type":"quantitative"},"y":{"field":"F","type":"quantitative"},"order":{"value":null}}},
{"data":{"name":"arrows"},"transform":[{"filter":"datum.p==40"}],"mark":{"type":"point","filled":true,"color":"#f03030","size":12,"opacity":1},"encoding":{"x":{"field":"d","type":"quantitative"},"y":{"field":"F","type":"quantitative"},"shape":{"field":"s","type":"nominal","scale":{"domain":["L","R"],"range":["triangle-left","triangle-right"]},"legend":null}}},
{"data":{"name":"ann"},"transform":[{"filter":"datum.p==40&&datum.k=='title'"}],"mark":{"type":"text","font":"Liberation Sans","fontWeight":"bold","fontSize":18,"color":"#111"},"encoding":{"x":{"field":"d","type":"quantitative"},"y":{"field":"F","type":"quantitative"},"text":{"field":"t","type":"nominal"}}},
{"data":{"name":"ann"},"transform":[{"filter":"datum.p==40&&datum.k=='pkR'"}],"mark":{"type":"text","font":"Liberation Sans","fontWeight":"bold","fontSize":10,"align":"left","color":"#111"},"encoding":{"x":{"field":"d","type":"quantitative"},"y":{"field":"F","type":"quantitative"},"text":{"field":"t","type":"nominal"}}},
{"data":{"name":"ann"},"transform":[{"filter":"datum.p==40&&datum.k=='pkL'"}],"mark":{"type":"text","font":"Liberation Sans","fontWeight":"bold","fontSize":10,"align":"right","color":"#111"},"encoding":{"x":{"field":"d","type":"quantitative"},"y":{"field":"F","type":"quantitative"},"text":{"field":"t","type":"nominal"}}},
{"data":{"name":"ann"},"transform":[{"filter":"datum.p==40&&datum.k=='T'"}],"mark":{"type":"text","font":"Liberation Sans","fontWeight":"bold","fontSize":7.5,"color":"#111"},"encoding":{"x":{"field":"d","type":"quantitative"},"y":{"field":"F","type":"quantitative"},"text":{"field":"t","type":"nominal"}}},
{"data":{"name":"ann"},"transform":[{"filter":"datum.p==40&&datum.k=='dim'"}],"mark":{"type":"text","font":"Liberation Sans","fontWeight":"bold","fontSize":8,"color":"#111"},"encoding":{"x":{"field":"d","type":"quantitative"},"y":{"field":"F","type":"quantitative"},"text":{"field":"t","type":"nominal"}}},
{"data":{"name":"ann"},"transform":[{"filter":"datum.p==40&&datum.k=='axn'"}],"mark":{"type":"text","font":"Liberation Serif","fontSize":12,"color":"#111"},"encoding":{"x":{"field":"d","type":"quantitative"},"y":{"field":"F","type":"quantitative"},"text":{"field":"t","type":"nominal"}}},
{"data":{"name":"ann"},"transform":[{"filter":"datum.p==40&&datum.k=='axu'"}],"mark":{"type":"text","font":"Liberation Serif","fontSize":8,"color":"#111"},"encoding":{"x":{"field":"d","type":"quantitative"},"y":{"field":"F","type":"quantitative"},"text":{"field":"t","type":"nominal"}}}
]}
],"spacing":0,"bounds":"flush"},
{"hconcat":[
{"width":495,"height":317,"layer":[
{"data":{"name":"rules"},"transform":[{"filter":"datum.p==50&&datum.k=='ax'"}],"mark":{"type":"rule","color":"#5e5e88","strokeWidth":1.8,"clip":true},"encoding":{"x":{"field":"d","type":"quantitative","scale":{"domain":[-38,0,38],"range":[50.3,248,451.3],"nice":false,"zero":false}},"y":{"field":"F","type":"quantitative","scale":{"domain":[-0.86,0,0.7],"range":[257.3,195.7,120.7],"nice":false,"zero":false}},"x2":{"field":"d2"},"y2":{"field":"F2"}}},
{"data":{"name":"rules"},"transform":[{"filter":"datum.p==50&&datum.k=='red'"}],"mark":{"type":"rule","color":"#f03030","strokeWidth":1.3},"encoding":{"x":{"field":"d","type":"quantitative"},"y":{"field":"F","type":"quantitative"},"x2":{"field":"d2"},"y2":{"field":"F2"}}},
{"data":{"name":"rules"},"transform":[{"filter":"datum.p==50&&datum.k=='div'"}],"mark":{"type":"rule","color":"#333333","strokeWidth":1.5,"clip":true},"encoding":{"x":{"field":"d","type":"quantitative"}}},
{"data":{"name":"loops"},"transform":[{"filter":"datum.p==50"}],"mark":{"type":"line","color":"#3f9f3f","strokeWidth":1.3,"interpolate":"catmull-rom"},"encoding":{"x":{"field":"d","type":"quantitative"},"y":{"field":"F","type":"quantitative"},"order":{"value":null}}},
{"data":{"name":"arrows"},"transform":[{"filter":"datum.p==50"}],"mark":{"type":"point","filled":true,"color":"#f03030","size":14,"opacity":1},"encoding":{"x":{"field":"d","type":"quantitative"},"y":{"field":"F","type":"quantitative"},"shape":{"field":"s","type":"nominal","scale":{"domain":["L","R"],"range":["triangle-left","triangle-right"]},"legend":null}}},
{"data":{"name":"ann"},"transform":[{"filter":"datum.p==50&&datum.k=='title'"}],"mark":{"type":"text","font":"Liberation Sans","fontWeight":"bold","fontSize":19,"color":"#111"},"encoding":{"x":{"field":"d","type":"quantitative"},"y":{"field":"F","type":"quantitative"},"text":{"field":"t","type":"nominal"}}},
{"data":{"name":"ann"},"transform":[{"filter":"datum.p==50&&datum.k=='pkR'"}],"mark":{"type":"text","font":"Liberation Sans","fontWeight":"bold","fontSize":11,"align":"left","color":"#111"},"encoding":{"x":{"field":"d","type":"quantitative"},"y":{"field":"F","type":"quantitative"},"text":{"field":"t","type":"nominal"}}},
{"data":{"name":"ann"},"transform":[{"filter":"datum.p==50&&datum.k=='pkL'"}],"mark":{"type":"text","font":"Liberation Sans","fontWeight":"bold","fontSize":11,"align":"right","color":"#111"},"encoding":{"x":{"field":"d","type":"quantitative"},"y":{"field":"F","type":"quantitative"},"text":{"field":"t","type":"nominal"}}},
{"data":{"name":"ann"},"transform":[{"filter":"datum.p==50&&datum.k=='T'"}],"mark":{"type":"text","font":"Liberation Sans","fontWeight":"bold","fontSize":8,"color":"#111"},"encoding":{"x":{"field":"d","type":"quantitative"},"y":{"field":"F","type":"quantitative"},"text":{"field":"t","type":"nominal"}}},
{"data":{"name":"ann"},"transform":[{"filter":"datum.p==50&&datum.k=='dim'"}],"mark":{"type":"text","font":"Liberation Sans","fontWeight":"bold","fontSize":8.6,"color":"#111"},"encoding":{"x":{"field":"d","type":"quantitative"},"y":{"field":"F","type":"quantitative"},"text":{"field":"t","type":"nominal"}}},
{"data":{"name":"ann"},"transform":[{"filter":"datum.p==50&&datum.k=='axn'"}],"mark":{"type":"text","font":"Liberation Serif","fontSize":13,"color":"#111"},"encoding":{"x":{"field":"d","type":"quantitative"},"y":{"field":"F","type":"quantitative"},"text":{"field":"t","type":"nominal"}}},
{"data":{"name":"ann"},"transform":[{"filter":"datum.p==50&&datum.k=='axu'"}],"mark":{"type":"text","font":"Liberation Serif","fontSize":8.5,"color":"#111"},"encoding":{"x":{"field":"d","type":"quantitative"},"y":{"field":"F","type":"quantitative"},"text":{"field":"t","type":"nominal"}}}
]},
{"width":563,"height":317,"layer":[
{"data":{"name":"rules"},"transform":[{"filter":"datum.p==60&&datum.k=='ax'"}],"mark":{"type":"rule","color":"#62628a","strokeWidth":1.8,"clip":true},"encoding":{"x":{"field":"d","type":"quantitative","scale":{"domain":[-46,0,46],"range":[60.2,301,537.4],"nice":false,"zero":false}},"y":{"field":"F","type":"quantitative","scale":{"domain":[-0.96,0,0.84],"range":[265.7,195.7,110.7],"nice":false,"zero":false}},"x2":{"field":"d2"},"y2":{"field":"F2"}}},
{"data":{"name":"rules"},"transform":[{"filter":"datum.p==60&&datum.k=='red'"}],"mark":{"type":"rule","color":"#f03030","strokeWidth":1.3},"encoding":{"x":{"field":"d","type":"quantitative"},"y":{"field":"F","type":"quantitative"},"x2":{"field":"d2"},"y2":{"field":"F2"}}},
{"data":{"name":"loops"},"transform":[{"filter":"datum.p==60"}],"mark":{"type":"line","color":"#3f9f3f","strokeWidth":1.3,"interpolate":"catmull-rom"},"encoding":{"x":{"field":"d","type":"quantitative"},"y":{"field":"F","type":"quantitative"},"order":{"value":null}}},
{"data":{"name":"arrows"},"transform":[{"filter":"datum.p==60"}],"mark":{"type":"point","filled":true,"color":"#f03030","size":14,"opacity":1},"encoding":{"x":{"field":"d","type":"quantitative"},"y":{"field":"F","type":"quantitative"},"shape":{"field":"s","type":"nominal","scale":{"domain":["L","R"],"range":["triangle-left","triangle-right"]},"legend":null}}},
{"data":{"name":"ann"},"transform":[{"filter":"datum.p==60&&datum.k=='title'"}],"mark":{"type":"text","font":"Liberation Sans","fontWeight":"bold","fontSize":19,"color":"#111"},"encoding":{"x":{"field":"d","type":"quantitative"},"y":{"field":"F","type":"quantitative"},"text":{"field":"t","type":"nominal"}}},
{"data":{"name":"ann"},"transform":[{"filter":"datum.p==60&&datum.k=='pkR'"}],"mark":{"type":"text","font":"Liberation Sans","fontWeight":"bold","fontSize":11.5,"align":"left","color":"#111"},"encoding":{"x":{"field":"d","type":"quantitative"},"y":{"field":"F","type":"quantitative"},"text":{"field":"t","type":"nominal"}}},
{"data":{"name":"ann"},"transform":[{"filter":"datum.p==60&&datum.k=='pkL'"}],"mark":{"type":"text","font":"Liberation Sans","fontWeight":"bold","fontSize":11.5,"align":"right","color":"#111"},"encoding":{"x":{"field":"d","type":"quantitative"},"y":{"field":"F","type":"quantitative"},"text":{"field":"t","type":"nominal"}}},
{"data":{"name":"ann"},"transform":[{"filter":"datum.p==60&&datum.k=='T'"}],"mark":{"type":"text","font":"Liberation Sans","fontWeight":"bold","fontSize":8,"color":"#111"},"encoding":{"x":{"field":"d","type":"quantitative"},"y":{"field":"F","type":"quantitative"},"text":{"field":"t","type":"nominal"}}},
{"data":{"name":"ann"},"transform":[{"filter":"datum.p==60&&datum.k=='dim'"}],"mark":{"type":"text","font":"Liberation Sans","fontWeight":"bold","fontSize":8.4,"color":"#111"},"encoding":{"x":{"field":"d","type":"quantitative"},"y":{"field":"F","type":"quantitative"},"text":{"field":"t","type":"nominal"}}},
{"data":{"name":"ann"},"transform":[{"filter":"datum.p==60&&datum.k=='axn'"}],"mark":{"type":"text","font":"Liberation Serif","fontSize":13,"color":"#111"},"encoding":{"x":{"field":"d","type":"quantitative"},"y":{"field":"F","type":"quantitative"},"text":{"field":"t","type":"nominal"}}},
{"data":{"name":"ann"},"transform":[{"filter":"datum.p==60&&datum.k=='axu'"}],"mark":{"type":"text","font":"Liberation Serif","fontSize":8.5,"color":"#111"},"encoding":{"x":{"field":"d","type":"quantitative"},"y":{"field":"F","type":"quantitative"},"text":{"field":"t","type":"nominal"}}}
]}
],"spacing":0,"bounds":"flush"},
{"hconcat":[
{"width":533,"height":342,"layer":[
{"data":{"name":"rules"},"transform":[{"filter":"datum.p==70&&datum.k=='ax'"}],"mark":{"type":"rule","color":"#1d1d5e","strokeWidth":1.4,"clip":true},"encoding":{"x":{"field":"d","type":"quantitative","scale":{"domain":[-53,0,53],"range":[28.5,239.5,448.2],"nice":false,"zero":false}},"y":{"field":"F","type":"quantitative","scale":{"domain":[-1.09,0,0.97],"range":[261.3,192.7,109.3],"nice":false,"zero":false}},"x2":{"field":"d2"},"y2":{"field":"F2"}}},
{"data":{"name":"rules"},"transform":[{"filter":"datum.p==70&&datum.k=='red'"}],"mark":{"type":"rule","color":"#f03030","strokeWidth":1.3},"encoding":{"x":{"field":"d","type":"quantitative"},"y":{"field":"F","type":"quantitative"},"x2":{"field":"d2"},"y2":{"field":"F2"}}},
{"data":{"name":"rules"},"transform":[{"filter":"datum.p==70&&datum.k=='div'"}],"mark":{"type":"rule","color":"#333333","strokeWidth":1.5,"clip":true},"encoding":{"x":{"field":"d","type":"quantitative"}}},
{"data":{"name":"loops"},"transform":[{"filter":"datum.p==70"}],"mark":{"type":"line","color":"#3f9f3f","strokeWidth":1.3,"interpolate":"catmull-rom"},"encoding":{"x":{"field":"d","type":"quantitative"},"y":{"field":"F","type":"quantitative"},"order":{"value":null}}},
{"data":{"name":"arrows"},"transform":[{"filter":"datum.p==70"}],"mark":{"type":"point","filled":true,"color":"#f03030","size":14,"opacity":1},"encoding":{"x":{"field":"d","type":"quantitative"},"y":{"field":"F","type":"quantitative"},"shape":{"field":"s","type":"nominal","scale":{"domain":["L","R"],"range":["triangle-left","triangle-right"]},"legend":null}}},
{"data":{"name":"ann"},"transform":[{"filter":"datum.p==70&&datum.k=='title'"}],"mark":{"type":"text","font":"Liberation Sans","fontWeight":"bold","fontSize":15.5,"color":"#111"},"encoding":{"x":{"field":"d","type":"quantitative"},"y":{"field":"F","type":"quantitative"},"text":{"field":"t","type":"nominal"}}},
{"data":{"name":"ann"},"transform":[{"filter":"datum.p==70&&datum.k=='pkR'"}],"mark":{"type":"text","font":"Liberation Sans","fontWeight":"bold","fontSize":8.5,"align":"left","color":"#111"},"encoding":{"x":{"field":"d","type":"quantitative"},"y":{"field":"F","type":"quantitative"},"text":{"field":"t","type":"nominal"}}},
{"data":{"name":"ann"},"transform":[{"filter":"datum.p==70&&datum.k=='pkL'"}],"mark":{"type":"text","font":"Liberation Sans","fontWeight":"bold","fontSize":8.5,"align":"right","color":"#111"},"encoding":{"x":{"field":"d","type":"quantitative"},"y":{"field":"F","type":"quantitative"},"text":{"field":"t","type":"nominal"}}},
{"data":{"name":"ann"},"transform":[{"filter":"datum.p==70&&datum.k=='T'"}],"mark":{"type":"text","font":"Liberation Sans","fontWeight":"bold","fontSize":8,"color":"#111"},"encoding":{"x":{"field":"d","type":"quantitative"},"y":{"field":"F","type":"quantitative"},"text":{"field":"t","type":"nominal"}}},
{"data":{"name":"ann"},"transform":[{"filter":"datum.p==70&&datum.k=='dim'"}],"mark":{"type":"text","font":"Liberation Sans","fontWeight":"bold","fontSize":7.5,"color":"#111"},"encoding":{"x":{"field":"d","type":"quantitative"},"y":{"field":"F","type":"quantitative"},"text":{"field":"t","type":"nominal"}}},
{"data":{"name":"ann"},"transform":[{"filter":"datum.p==70&&datum.k=='axn'"}],"mark":{"type":"text","font":"Liberation Serif","fontSize":11,"color":"#111"},"encoding":{"x":{"field":"d","type":"quantitative"},"y":{"field":"F","type":"quantitative"},"text":{"field":"t","type":"nominal"}}},
{"data":{"name":"ann"},"transform":[{"filter":"datum.p==70&&datum.k=='axu'"}],"mark":{"type":"text","font":"Liberation Serif","fontSize":7,"color":"#111"},"encoding":{"x":{"field":"d","type":"quantitative"},"y":{"field":"F","type":"quantitative"},"text":{"field":"t","type":"nominal"}}}
]},
{"width":525,"height":342,"layer":[
{"data":{"name":"rules"},"transform":[{"filter":"datum.p==80&&datum.k=='ax'"}],"mark":{"type":"rule","color":"#1d1d5e","strokeWidth":1.4,"clip":true},"encoding":{"x":{"field":"d","type":"quantitative","scale":{"domain":[-61,0,61],"range":[26.2,270.7,514.5],"nice":false,"zero":false}},"y":{"field":"F","type":"quantitative","scale":{"domain":[-1.2,0,1.13],"range":[275.3,196.7,99.3],"nice":false,"zero":false}},"x2":{"field":"d2"},"y2":{"field":"F2"}}},
{"data":{"name":"rules"},"transform":[{"filter":"datum.p==80&&datum.k=='red'"}],"mark":{"type":"rule","color":"#f03030","strokeWidth":1.3},"encoding":{"x":{"field":"d","type":"quantitative"},"y":{"field":"F","type":"quantitative"},"x2":{"field":"d2"},"y2":{"field":"F2"}}},
{"data":{"name":"loops"},"transform":[{"filter":"datum.p==80"}],"mark":{"type":"line","color":"#3f9f3f","strokeWidth":1.3,"interpolate":"catmull-rom"},"encoding":{"x":{"field":"d","type":"quantitative"},"y":{"field":"F","type":"quantitative"},"order":{"value":null}}},
{"data":{"name":"arrows"},"transform":[{"filter":"datum.p==80"}],"mark":{"type":"point","filled":true,"color":"#f03030","size":14,"opacity":1},"encoding":{"x":{"field":"d","type":"quantitative"},"y":{"field":"F","type":"quantitative"},"shape":{"field":"s","type":"nominal","scale":{"domain":["L","R"],"range":["triangle-left","triangle-right"]},"legend":null}}},
{"data":{"name":"ann"},"transform":[{"filter":"datum.p==80&&datum.k=='title'"}],"mark":{"type":"text","font":"Liberation Sans","fontWeight":"bold","fontSize":15.5,"color":"#111"},"encoding":{"x":{"field":"d","type":"quantitative"},"y":{"field":"F","type":"quantitative"},"text":{"field":"t","type":"nominal"}}},
{"data":{"name":"ann"},"transform":[{"filter":"datum.p==80&&datum.k=='pkR'"}],"mark":{"type":"text","font":"Liberation Sans","fontWeight":"bold","fontSize":8.5,"align":"left","color":"#111"},"encoding":{"x":{"field":"d","type":"quantitative"},"y":{"field":"F","type":"quantitative"},"text":{"field":"t","type":"nominal"}}},
{"data":{"name":"ann"},"transform":[{"filter":"datum.p==80&&datum.k=='pkL'"}],"mark":{"type":"text","font":"Liberation Sans","fontWeight":"bold","fontSize":8.5,"align":"right","color":"#111"},"encoding":{"x":{"field":"d","type":"quantitative"},"y":{"field":"F","type":"quantitative"},"text":{"field":"t","type":"nominal"}}},
{"data":{"name":"ann"},"transform":[{"filter":"datum.p==80&&datum.k=='T'"}],"mark":{"type":"text","font":"Liberation Sans","fontWeight":"bold","fontSize":8,"color":"#111"},"encoding":{"x":{"field":"d","type":"quantitative"},"y":{"field":"F","type":"quantitative"},"text":{"field":"t","type":"nominal"}}},
{"data":{"name":"ann"},"transform":[{"filter":"datum.p==80&&datum.k=='dim'"}],"mark":{"type":"text","font":"Liberation Sans","fontWeight":"bold","fontSize":7.6,"color":"#111"},"encoding":{"x":{"field":"d","type":"quantitative"},"y":{"field":"F","type":"quantitative"},"text":{"field":"t","type":"nominal"}}},
{"data":{"name":"ann"},"transform":[{"filter":"datum.p==80&&datum.k=='axn'"}],"mark":{"type":"text","font":"Liberation Serif","fontSize":11,"color":"#111"},"encoding":{"x":{"field":"d","type":"quantitative"},"y":{"field":"F","type":"quantitative"},"text":{"field":"t","type":"nominal"}}},
{"data":{"name":"ann"},"transform":[{"filter":"datum.p==80&&datum.k=='axu'"}],"mark":{"type":"text","font":"Liberation Serif","fontSize":7,"color":"#111"},"encoding":{"x":{"field":"d","type":"quantitative"},"y":{"field":"F","type":"quantitative"},"text":{"field":"t","type":"nominal"}}}
]}
],"spacing":0,"bounds":"flush"},
{"hconcat":[
{"width":517,"height":347,"layer":[
{"data":{"name":"rules"},"transform":[{"filter":"datum.p==90&&datum.k=='ax'"}],"mark":{"type":"rule","color":"#1d1d5e","strokeWidth":1.4,"clip":true},"encoding":{"x":{"field":"d","type":"quantitative","scale":{"domain":[-68.5,0,68.5],"range":[44.4,236.1,424],"nice":false,"zero":false}},"y":{"field":"F","type":"quantitative","scale":{"domain":[-1.36,0,1.28],"range":[285.7,222.3,155],"nice":false,"zero":false}},"x2":{"field":"d2"},"y2":{"field":"F2"}}},
{"data":{"name":"rules"},"transform":[{"filter":"datum.p==90&&datum.k=='red'"}],"mark":{"type":"rule","color":"#f03030","strokeWidth":1.3},"encoding":{"x":{"field":"d","type":"quantitative"},"y":{"field":"F","type":"quantitative"},"x2":{"field":"d2"},"y2":{"field":"F2"}}},
{"data":{"name":"rules"},"transform":[{"filter":"datum.p==90&&datum.k=='div'"}],"mark":{"type":"rule","color":"#333333","strokeWidth":1.5,"clip":true},"encoding":{"x":{"field":"d","type":"quantitative"}}},
{"data":{"name":"loops"},"transform":[{"filter":"datum.p==90"}],"mark":{"type":"line","color":"#3f9f3f","strokeWidth":1.3,"interpolate":"catmull-rom"},"encoding":{"x":{"field":"d","type":"quantitative"},"y":{"field":"F","type":"quantitative"},"order":{"value":null}}},
{"data":{"name":"arrows"},"transform":[{"filter":"datum.p==90"}],"mark":{"type":"point","filled":true,"color":"#f03030","size":14,"opacity":1},"encoding":{"x":{"field":"d","type":"quantitative"},"y":{"field":"F","type":"quantitative"},"shape":{"field":"s","type":"nominal","scale":{"domain":["L","R"],"range":["triangle-left","triangle-right"]},"legend":null}}},
{"data":{"name":"ann"},"transform":[{"filter":"datum.p==90&&datum.k=='title'"}],"mark":{"type":"text","font":"Liberation Sans","fontWeight":"bold","fontSize":21,"color":"#111"},"encoding":{"x":{"field":"d","type":"quantitative"},"y":{"field":"F","type":"quantitative"},"text":{"field":"t","type":"nominal"}}},
{"data":{"name":"ann"},"transform":[{"filter":"datum.p==90&&datum.k=='pkR'"}],"mark":{"type":"text","font":"Liberation Sans","fontSize":13,"align":"left","color":"#111"},"encoding":{"x":{"field":"d","type":"quantitative"},"y":{"field":"F","type":"quantitative"},"text":{"field":"t","type":"nominal"}}},
{"data":{"name":"ann"},"transform":[{"filter":"datum.p==90&&datum.k=='pkL'"}],"mark":{"type":"text","font":"Liberation Sans","fontSize":13,"align":"right","color":"#111"},"encoding":{"x":{"field":"d","type":"quantitative"},"y":{"field":"F","type":"quantitative"},"text":{"field":"t","type":"nominal"}}},
{"data":{"name":"ann"},"transform":[{"filter":"datum.p==90&&datum.k=='T'"}],"mark":{"type":"text","font":"Liberation Sans","fontWeight":"bold","fontSize":8.5,"color":"#111"},"encoding":{"x":{"field":"d","type":"quantitative"},"y":{"field":"F","type":"quantitative"},"text":{"field":"t","type":"nominal"}}},
{"data":{"name":"ann"},"transform":[{"filter":"datum.p==90&&datum.k=='dim'"}],"mark":{"type":"text","font":"Liberation Sans","fontWeight":"bold","fontSize":9.8,"color":"#111"},"encoding":{"x":{"field":"d","type":"quantitative"},"y":{"field":"F","type":"quantitative"},"text":{"field":"t","type":"nominal"}}},
{"data":{"name":"ann"},"transform":[{"filter":"datum.p==90&&datum.k=='axn'"}],"mark":{"type":"text","font":"Liberation Serif","fontSize":14,"color":"#111"},"encoding":{"x":{"field":"d","type":"quantitative"},"y":{"field":"F","type":"quantitative"},"text":{"field":"t","type":"nominal"}}},
{"data":{"name":"ann"},"transform":[{"filter":"datum.p==90&&datum.k=='axu'"}],"mark":{"type":"text","font":"Liberation Serif","fontSize":9,"color":"#111"},"encoding":{"x":{"field":"d","type":"quantitative"},"y":{"field":"F","type":"quantitative"},"text":{"field":"t","type":"nominal"}}}
]},
{"width":541,"height":347,"layer":[
{"data":{"name":"rules"},"transform":[{"filter":"datum.p==100&&datum.k=='ax'"}],"mark":{"type":"rule","color":"#2a2a66","strokeWidth":1.5,"clip":true},"encoding":{"x":{"field":"d","type":"quantitative","scale":{"domain":[-76,0,76],"range":[90.8,294.4,503.4],"nice":false,"zero":false}},"y":{"field":"F","type":"quantitative","scale":{"domain":[-1.54,0,1.44],"range":[303.3,232.3,152.3],"nice":false,"zero":false}},"x2":{"field":"d2"},"y2":{"field":"F2"}}},
{"data":{"name":"rules"},"transform":[{"filter":"datum.p==100&&datum.k=='red'"}],"mark":{"type":"rule","color":"#f03030","strokeWidth":1.3},"encoding":{"x":{"field":"d","type":"quantitative"},"y":{"field":"F","type":"quantitative"},"x2":{"field":"d2"},"y2":{"field":"F2"}}},
{"data":{"name":"loops"},"transform":[{"filter":"datum.p==100"}],"mark":{"type":"line","color":"#3f9f3f","strokeWidth":1.3,"interpolate":"catmull-rom"},"encoding":{"x":{"field":"d","type":"quantitative"},"y":{"field":"F","type":"quantitative"},"order":{"value":null}}},
{"data":{"name":"arrows"},"transform":[{"filter":"datum.p==100"}],"mark":{"type":"point","filled":true,"color":"#f03030","size":14,"opacity":1},"encoding":{"x":{"field":"d","type":"quantitative"},"y":{"field":"F","type":"quantitative"},"shape":{"field":"s","type":"nominal","scale":{"domain":["L","R"],"range":["triangle-left","triangle-right"]},"legend":null}}},
{"data":{"name":"ann"},"transform":[{"filter":"datum.p==100&&datum.k=='title'"}],"mark":{"type":"text","font":"Liberation Sans","fontWeight":"bold","fontSize":21,"color":"#111"},"encoding":{"x":{"field":"d","type":"quantitative"},"y":{"field":"F","type":"quantitative"},"text":{"field":"t","type":"nominal"}}},
{"data":{"name":"ann"},"transform":[{"filter":"datum.p==100&&datum.k=='pkR'"}],"mark":{"type":"text","font":"Liberation Sans","fontSize":13,"align":"left","color":"#111"},"encoding":{"x":{"field":"d","type":"quantitative"},"y":{"field":"F","type":"quantitative"},"text":{"field":"t","type":"nominal"}}},
{"data":{"name":"ann"},"transform":[{"filter":"datum.p==100&&datum.k=='pkL'"}],"mark":{"type":"text","font":"Liberation Sans","fontSize":13,"align":"right","color":"#111"},"encoding":{"x":{"field":"d","type":"quantitative"},"y":{"field":"F","type":"quantitative"},"text":{"field":"t","type":"nominal"}}},
{"data":{"name":"ann"},"transform":[{"filter":"datum.p==100&&datum.k=='T'"}],"mark":{"type":"text","font":"Liberation Sans","fontWeight":"bold","fontSize":8.5,"color":"#111"},"encoding":{"x":{"field":"d","type":"quantitative"},"y":{"field":"F","type":"quantitative"},"text":{"field":"t","type":"nominal"}}},
{"data":{"name":"ann"},"transform":[{"filter":"datum.p==100&&datum.k=='dim'"}],"mark":{"type":"text","font":"Liberation Sans","fontWeight":"bold","fontSize":8.7,"color":"#111"},"encoding":{"x":{"field":"d","type":"quantitative"},"y":{"field":"F","type":"quantitative"},"text":{"field":"t","type":"nominal"}}},
{"data":{"name":"ann"},"transform":[{"filter":"datum.p==100&&datum.k=='axn'"}],"mark":{"type":"text","font":"Liberation Serif","fontSize":14,"color":"#111"},"encoding":{"x":{"field":"d","type":"quantitative"},"y":{"field":"F","type":"quantitative"},"text":{"field":"t","type":"nominal"}}},
{"data":{"name":"ann"},"transform":[{"filter":"datum.p==100&&datum.k=='axu'"}],"mark":{"type":"text","font":"Liberation Serif","fontSize":9,"color":"#111"},"encoding":{"x":{"field":"d","type":"quantitative"},"y":{"field":"F","type":"quantitative"},"text":{"field":"t","type":"nominal"}}}
]}
],"spacing":0,"bounds":"flush"}
]
}
